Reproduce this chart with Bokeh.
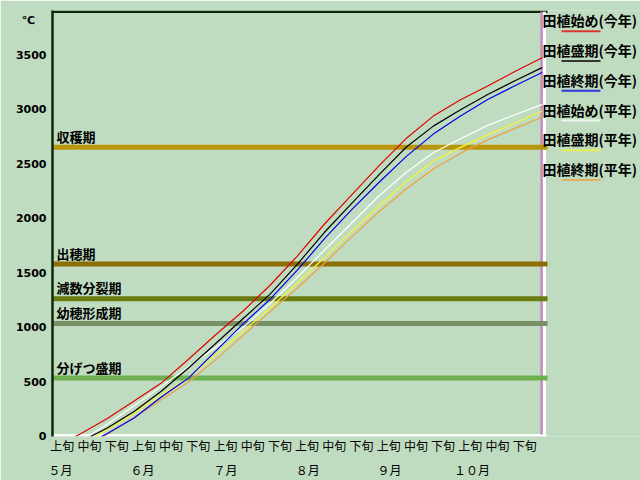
from bokeh.plotting import figure
from bokeh.models import Range1d, FixedTicker, LinearAxis, ColumnDataSource
from bokeh.embed import file_html
from bokeh.resources import INLINE
from bokeh.core.properties import value

# ---------------- data ----------------
# x axis: dekad index (0 = start of 5月上旬, 18 = end of 10月下旬)
DEKAD_POS = list(range(1, 19))
JUN_LABELS = ["上旬", "中旬", "下旬"]
MONTH_LABELS = ["５月", "６月", "７月", "８月", "９月", "１０月"]
MONTH_TICKS = [0.29, 3.31, 6.36, 9.38, 12.39, 15.42]
Y_TICKS = [0, 500, 1000, 1500, 2000, 2500, 3000, 3500]
UNIT_LABEL = "℃"

SERIES_NAMES = ["田植始め(今年)", "田植盛期(今年)", "田植終期(今年)",
                "田植始め(平年)", "田植盛期(平年)", "田植終期(平年)"]
# planting position (dekad units) where accumulation starts at 0
START_POS = [0.85, 1.40, 1.80, 1.29, 1.58, 1.88]
# accumulated temperature at dekad boundaries (first value = first boundary after start)
RED_VALUES = [21, 162, 325, 490, 709, 934, 1149, 1388, 1656, 1950, 2218, 2484,
              2734, 2940, 3090, 3217, 3349, 3475]
BLACK_VALUES = [75, 229, 415, 628, 854, 1080, 1306, 1580, 1874, 2139, 2401,
                2654, 2848, 2998, 3138, 3264, 3385]
BLUE_VALUES = [25, 170, 363, 536, 783, 1031, 1260, 1526, 1815, 2082, 2331,
               2568, 2775, 2941, 3092, 3218, 3340]
WHITE_VALUES = [110, 282, 460, 641, 820, 999, 1220, 1460, 1710, 1959, 2207,
                2423, 2604, 2732, 2855, 2953, 3048]
YELLOW_VALUES = [60, 211, 384, 540, 753, 963, 1179, 1408, 1642, 1884, 2115,
                 2336, 2528, 2653, 2768, 2877, 2985]
ORANGE_VALUES = [18, 175, 338, 500, 705, 926, 1147, 1363, 1590, 1832, 2062,
                 2271, 2454, 2600, 2722, 2827, 2930]
SERIES_VALUES = [RED_VALUES, BLACK_VALUES, BLUE_VALUES,
                 WHITE_VALUES, YELLOW_VALUES, ORANGE_VALUES]

STAGE_NAMES = ["収穫期", "出穂期", "減数分裂期", "幼穂形成期", "分げつ盛期"]
STAGE_VALUES = [2655, 1582, 1264, 1036, 536]

# ---------------- styles ----------------
BG = "#c0dcc0"
SERIES_COLORS = ["#e00000", "#000000", "#0000e8", "#ffffff", "#f4f430", "#eca040"]
STAGE_COLORS = ["#b89608", "#8c6e04", "#6c7a12", "#789064", "#6cb050"]
DARK = "#0a280a"
FONT = "Noto Sans CJK JP"

PX_PER_DEKAD = 27.2
PX_PER_UNIT = 0.11
FRAME_LEFT, FRAME_TOP, FRAME_BOTTOM = 52, 10, 440
W, H = 640, 480
FRAME_W, FRAME_H = W - FRAME_LEFT, FRAME_BOTTOM - FRAME_TOP
X_END = FRAME_W / PX_PER_DEKAD
Y_TOP = FRAME_H / PX_PER_UNIT
N_DEK = 18


def ypx(px):
    return px / PX_PER_UNIT


def xpx(px):
    return px / PX_PER_DEKAD


p = figure(width=W, height=H, x_range=Range1d(0, X_END), y_range=Range1d(0, Y_TOP),
           output_backend="svg", toolbar_location=None, x_axis_location=None,
           min_border_left=FRAME_LEFT, min_border_right=0, min_border_top=FRAME_TOP,
           min_border_bottom=H - FRAME_BOTTOM,
           background_fill_color=BG, border_fill_color=BG, outline_line_color=None)
p.xgrid.visible = False
p.ygrid.visible = False

# y axis, with the unit shown as an extra label near the top
unit_pos = round(Y_TOP - ypx(10), 1)
ya = p.yaxis[0]
ya.ticker = FixedTicker(ticks=Y_TICKS + [unit_pos])
ya.major_label_overrides = {unit_pos: UNIT_LABEL + "\u00a0\u00a0\u00a0"}
ya.major_label_text_font = "DejaVu Sans"
ya.major_label_text_font_style = "bold"
ya.major_label_text_font_size = "11px"
ya.major_label_text_color = "#000000"
ya.major_tick_line_color = None
ya.minor_tick_line_color = None
ya.major_tick_out = 0
ya.minor_tick_out = 0
ya.axis_line_color = DARK
ya.axis_line_width = 2.5
ya.major_label_standoff = 6

jun_ticks = [round(i + 0.36, 2) for i in range(N_DEK)]
ax1 = LinearAxis(ticker=FixedTicker(ticks=jun_ticks),
                 major_label_overrides={t: JUN_LABELS[i % 3] for i, t in enumerate(jun_ticks)})
ax2 = LinearAxis(ticker=FixedTicker(ticks=MONTH_TICKS),
                 major_label_overrides={t: m for t, m in zip(MONTH_TICKS, MONTH_LABELS)})
for ax, st in ((ax1, 0), (ax2, 4)):
    ax.axis_line_color = None
    ax.major_tick_line_color = None
    ax.minor_tick_line_color = None
    ax.major_tick_out = 0
    ax.minor_tick_out = 0
    ax.major_tick_in = 0
    ax.axis_label_standoff = 0
    ax.major_label_text_font = FONT
    ax.major_label_text_font_size = "12px"
    ax.major_label_text_color = "#000000"
    ax.major_label_standoff = st
    p.add_layout(ax, "below")

# frame decorations
top_val = Y_TOP - ypx(1.2)
p.segment(x0=[-0.05], y0=[top_val], x1=[xpx(495)], y1=[top_val], line_color=DARK, line_width=2.5)
p.segment(x0=[0], y0=[ypx(1.2)], x1=[xpx(494)], y1=[ypx(1.2)], line_color="#ffffff", line_width=2.5)
p.segment(x0=[xpx(492)], y0=[0], x1=[xpx(492)], y1=[top_val], line_color="#ffffff", line_width=3)
p.segment(x0=[N_DEK - 0.02], y0=[ypx(2)], x1=[N_DEK - 0.02], y1=[top_val], line_color="#c88cc8", line_width=2.5)

# stage lines
stage_src = ColumnDataSource(dict(y=STAGE_VALUES, name=STAGE_NAMES, color=STAGE_COLORS,
                                  x0=[0] * len(STAGE_VALUES), x1=[xpx(495)] * len(STAGE_VALUES)))
p.segment(x0="x0", y0="y", x1="x1", y1="y", line_color="color", line_width=5, source=stage_src)
p.text(x="x0", y="y", text="name", source=stage_src, x_offset=4, y_offset=-11,
       text_baseline="middle", text_align="left", text_font=value(FONT),
       text_font_style="bold", text_font_size="13px", text_color="#000000")

# curves (平年 first, then 今年)
for idx in [3, 4, 5, 2, 1, 0]:
    vals = SERIES_VALUES[idx]
    start = START_POS[idx]
    xs = [start] + DEKAD_POS[len(DEKAD_POS) - len(vals):]
    ys = [0] + vals
    p.line(xs, ys, line_color=SERIES_COLORS[idx], line_width=1.2)

# legend (text above a short line sample), right side
leg_text_x = xpx(490)
leg_line_x0, leg_line_x1 = xpx(509), xpx(548)
leg_src = ColumnDataSource(dict(
    name=SERIES_NAMES,
    color=SERIES_COLORS,
    x=[leg_text_x] * 6,
    ty=[Y_TOP - ypx(10 + 30 * i) for i in range(6)],
    x0=[leg_line_x0] * 6, x1=[leg_line_x1] * 6,
    ly=[Y_TOP - ypx(21 + 30 * i) for i in range(6)],
))
p.text(x="x", y="ty", text="name", source=leg_src, text_baseline="middle", text_align="left",
       text_font=value(FONT), text_font_style="bold", text_font_size="14px", text_color="#000000")
p.segment(x0="x0", y0="ly", x1="x1", y1="ly", line_color="color", line_width=2,
          line_alpha=0.75, source=leg_src)

open("out.html", "w").write(file_html(p, INLINE, "chart"))
